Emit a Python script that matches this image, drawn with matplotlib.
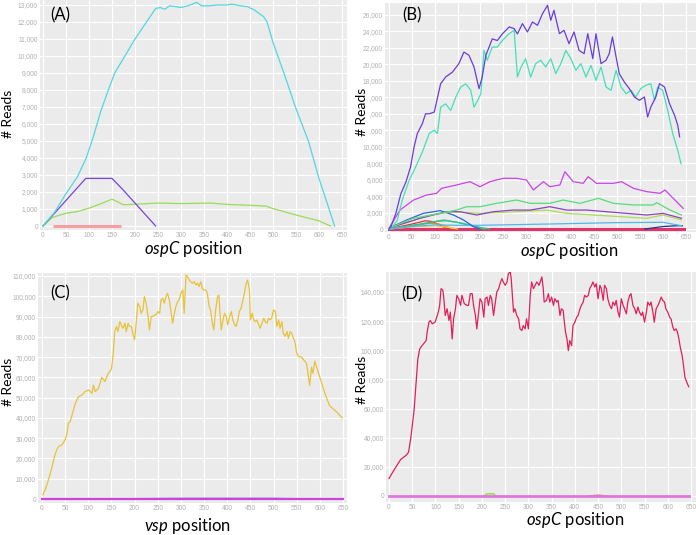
import matplotlib
matplotlib.use("Agg")
import matplotlib.pyplot as plt
from matplotlib.ticker import FuncFormatter, MultipleLocator

plt.rcParams['font.family'] = ['Lato', 'DejaVu Sans']
plt.rcParams['mathtext.fontset'] = 'custom'
plt.rcParams['mathtext.rm'] = 'Lato'
plt.rcParams['mathtext.it'] = 'Lato:italic'

# ---- panel A ----
a_cyan_x = [0, 25, 50, 75, 94, 110, 125, 142, 156, 178, 200, 225, 245, 255, 265, 275, 290,
            300, 315, 334, 345, 360, 380, 400, 410, 430, 445, 460, 480, 487, 500, 525, 550,
            577, 600, 634]
a_cyan_y = [0, 800, 1900, 2900, 4000, 5300, 6700, 8000, 9000, 10000, 11000, 12000, 12800,
            12850, 12750, 12950, 12900, 12850, 12950, 13150, 12950, 12950, 13000, 13000,
            13050, 12950, 12900, 12700, 12300, 12000, 10800, 8900, 6900, 5000, 2800, 0]
a_purple_x = [0, 25, 93, 150, 175, 245]
a_purple_y = [0, 750, 2800, 2800, 2100, 0]
a_green_x = [0, 20, 50, 75, 100, 125, 150, 175, 200, 250, 300, 365, 400, 450, 485, 500, 550, 600, 625]
a_green_y = [0, 500, 750, 850, 1050, 1300, 1580, 1250, 1280, 1350, 1320, 1350, 1270, 1220,
             1170, 1020, 650, 300, 0]
a_red_x = [22, 170]
a_red_y = [0, 0]

# ---- panel B ----
b_purple_x = [0, 4, 15, 26, 37, 47, 55, 62, 73, 80, 88, 99, 113, 124, 139, 153, 164, 175, 186,
              197, 204, 212, 226, 237, 248, 263, 274, 281, 292, 303, 314, 325, 336, 347, 354,
              361, 373, 383, 394, 405, 416, 427, 435, 446, 453, 464, 475, 482, 489, 497, 504,
              515, 526, 537, 548, 559, 566, 573, 584, 592, 603, 614, 625, 632, 636]
b_purple_y = [0, 240, 1900, 4300, 5700, 7500, 10000, 11600, 12800, 14000, 14000, 14200, 17650,
              18470, 19070, 20100, 21500, 21100, 19700, 17050, 18470, 21100, 23100, 22900,
              23700, 24550, 24340, 23700, 24950, 23940, 25150, 24750, 26160, 27180, 25350,
              26570, 23730, 24140, 22520, 23940, 21700, 21300, 23730, 20700, 23730, 20090,
              20500, 21300, 23330, 20900, 18870, 17860, 17050, 16040, 15630, 16040, 13600,
              14820, 16040, 17660, 17250, 15230, 13810, 12600, 11200]
b_teal_x = [0, 4, 18, 29, 44, 58, 73, 88, 99, 106, 113, 124, 135, 146, 157, 168, 179, 186, 194,
            201, 208, 215, 226, 237, 248, 263, 274, 281, 289, 299, 310, 321, 332, 343, 354,
            365, 376, 387, 398, 409, 420, 431, 442, 453, 464, 475, 486, 497, 508, 519, 530,
            540, 551, 562, 573, 581, 588, 599, 610, 621, 632, 639]
b_teal_y = [0, 40, 1050, 3500, 5900, 7500, 9350, 11600, 12000, 11600, 14800, 15200, 14400,
            16000, 17250, 17650, 16850, 14800, 15600, 16440, 21700, 20500, 22100, 22100,
            22900, 23730, 24140, 18470, 19680, 20700, 18470, 20090, 20500, 19680, 20700,
            18870, 20090, 21700, 20700, 19280, 20090, 18470, 19880, 18060, 19680, 17250,
            16850, 19280, 17250, 16440, 16850, 16040, 17050, 17460, 17660, 15630, 17250,
            16850, 14420, 11580, 9560, 7940]
b_magenta_x = [0, 2, 24, 53, 82, 104, 115, 148, 177, 199, 221, 250, 279, 301, 316, 338, 352,
               374, 385, 403, 425, 436, 454, 491, 509, 535, 564, 593, 604, 622, 644]
b_magenta_y = [0, 280, 2300, 3500, 4130, 4330, 4940, 5350, 5750, 5140, 5750, 6160, 6160, 5950,
               4740, 5750, 5140, 5350, 6960, 5750, 5550, 6360, 5550, 5550, 5750, 4940, 4540,
               4330, 4740, 3730, 2500]
b_green_x = [0, 2, 53, 112, 148, 170, 199, 236, 279, 309, 352, 381, 418, 458, 491, 535, 578,
             586, 615, 640]
b_green_y = [0, 150, 1300, 1900, 2300, 2710, 2710, 3120, 3520, 3120, 3120, 3520, 3120, 3730,
             3120, 2920, 2920, 3200, 2300, 1700]
b_violet_x = [0, 2, 68, 126, 155, 192, 228, 272, 309, 352, 389, 433, 476, 520, 564, 600, 640]
b_violet_y = [0, 150, 1300, 2100, 2100, 1700, 2100, 2300, 2300, 2710, 2300, 2300, 2100, 1900,
              1700, 1900, 1300]
b_lime_x = [0, 2, 90, 141, 199, 279, 345, 389, 447, 506, 564, 600, 640]
b_lime_y = [0, 150, 1700, 2100, 1900, 2100, 2300, 1900, 1700, 1500, 1300, 1700, 1100]
b_blue_x = [0, 2, 39, 75, 112, 141, 163, 185, 199]
b_blue_y = [0, 150, 1100, 1900, 2230, 1700, 1100, 280, 0]
b_sky_x = [0, 50, 100, 150, 199, 345, 491, 600, 640]
b_sky_y = [0, 300, 500, 450, 450, 600, 770, 810, 400]
b_red_x = [0, 50, 80, 95, 110, 125, 140]
b_red_y = [0, 600, 1000, 900, 500, 100, 0]
b_orange_x = [0, 50, 90, 110, 125, 140]
b_orange_y = [0, 400, 700, 600, 300, 0]
b_yellow_x = [0, 60, 100, 130, 150]
b_yellow_y = [0, 300, 400, 200, 0]
b_sea_x = [0, 60, 100, 125, 150, 180, 200, 210]
b_sea_y = [0, 500, 900, 1000, 800, 400, 100, 0]
b_aqua_x = [0, 80, 120, 160, 200, 220]
b_aqua_y = [0, 700, 1100, 700, 200, 0]
b_navy_x = [560, 600, 630, 642]
b_navy_y = [0, 300, 400, 400]
b_base_x = [0, 645]
b_base_y = [0, 0]

# ---- panel C ----
c_gold_x = [2, 7, 14, 18, 23, 27, 32, 36, 43, 50, 54, 57, 61, 68, 72, 79, 86, 93, 101, 108,
            111, 115, 122, 129, 136, 143, 150, 154, 157, 161, 164, 168, 171, 175, 179, 182,
            186, 189, 193, 196, 200, 204, 207, 211, 214, 218, 221, 225, 229, 232, 236, 239,
            243, 246, 250, 254, 257, 261, 264, 268, 271, 275, 279, 282, 286, 289, 293, 296,
            300, 304, 307, 311, 314, 318, 321, 325, 329, 332, 336, 339, 343, 346, 350, 354,
            357, 361, 364, 368, 371, 375, 379, 382, 384, 387, 391, 394, 398, 401, 405, 409,
            412, 416, 419, 423, 426, 430, 434, 437, 441, 444, 448, 450, 454, 457, 461, 464,
            468, 471, 475, 479, 482, 486, 489, 493, 496, 500, 504, 507, 511, 514, 518, 521,
            525, 529, 532, 536, 539, 543, 546, 550, 554, 560, 571, 578, 582, 585, 589, 600,
            611, 621, 636, 648]
c_gold_y = [2100, 4600, 9500, 12800, 16900, 21000, 24300, 25900, 26700, 29200, 32500, 37400,
            38200, 43900, 47200, 50500, 51300, 53000, 53800, 52100, 56200, 53000, 54600, 60000,
            58000, 62000, 64000, 72000, 82600, 85100, 82600, 87500, 85900, 84200, 86700, 82600,
            86700, 85100, 85100, 81800, 78500, 88350, 96550, 94900, 91600, 93300, 99800, 96550,
            90000, 83400, 90000, 90000, 90800, 90800, 92450, 91600, 98200, 99000, 96550, 99800,
            101500, 98200, 91600, 86700, 91600, 94900, 97400, 98200, 101500, 103100, 91600,
            110500, 109700, 108000, 107200, 106400, 107200, 105600, 106400, 104800, 107200,
            103900, 103100, 103100, 101500, 94900, 93300, 86700, 83400, 93300, 99800, 100600,
            93300, 83400, 88350, 91600, 90000, 85900, 90000, 92450, 88350, 85900, 85100, 88350,
            92450, 94100, 98200, 101500, 106400, 108000, 103100, 88350, 91600, 88350, 87500,
            88350, 85900, 84200, 86700, 89200, 87500, 86700, 89200, 88350, 89200, 93300, 92450,
            85100, 88350, 84200, 87500, 81800, 80150, 82600, 79300, 82600, 81800, 79300, 77700,
            72000, 70300, 70000, 67000, 56000, 65000, 62000, 68000, 60000, 52000, 46000, 43000,
            40000]
c_pink_x = [0, 650]
c_pink_y = [0, 0]
c_blue_x = [100, 300, 500, 600]
c_blue_y = [0, 300, 300, 0]

# ---- panel D ----
d_red_x = [0, 11, 25, 37, 42, 47, 54, 59, 62, 66, 71, 77, 80, 82, 86, 89, 93, 99, 104, 107,
           109, 112, 116, 118, 121, 125, 129, 132, 136, 139, 143, 146, 150, 154, 157, 162,
           168, 171, 175, 179, 182, 186, 189, 193, 196, 200, 204, 207, 211, 214, 218, 221,
           225, 229, 232, 236, 239, 243, 246, 250, 254, 257, 261, 263, 266, 268, 271, 275,
           279, 282, 286, 289, 293, 296, 300, 304, 307, 311, 318, 323, 329, 332, 334, 339,
           343, 346, 350, 354, 357, 361, 364, 368, 371, 375, 377, 380, 383, 386, 389, 393,
           396, 400, 404, 407, 411, 414, 418, 421, 425, 429, 432, 436, 439, 443, 446, 450,
           454, 457, 461, 464, 468, 471, 475, 479, 482, 486, 489, 493, 496, 500, 504, 507,
           511, 514, 518, 521, 525, 529, 532, 536, 539, 543, 546, 550, 554, 557, 561, 564,
           568, 571, 575, 579, 582, 586, 589, 593, 596, 600, 604, 607, 611, 614, 618, 621,
           624, 627, 631, 634, 637, 641, 645]
d_red_y = [12000, 18000, 25000, 28000, 30000, 40000, 59000, 81350, 94000, 100900, 103200,
           105500, 106650, 112400, 119300, 120450, 118150, 119300, 123900, 127350, 130800,
           142300, 141150, 135400, 123900, 128500, 120450, 126200, 107800, 121600, 128500,
           137700, 135400, 130800, 137700, 132000, 130800, 130800, 138850, 138850, 130800,
           123900, 114700, 126200, 135400, 133100, 122750, 135400, 136550, 130800, 137700,
           135400, 123900, 133100, 140000, 142300, 145750, 149200, 146900, 144600, 146900,
           152650, 153800, 149200, 135400, 126200, 128500, 123900, 121600, 114700, 113550,
           117000, 114700, 121600, 114700, 137700, 146900, 142300, 146900, 144600, 150350,
           142300, 133100, 134250, 138850, 133100, 136550, 130800, 135400, 133100, 134250,
           123900, 128500, 127350, 120450, 112400, 107800, 99750, 106650, 103200, 117000,
           119300, 122750, 123900, 128500, 130800, 133100, 137700, 136550, 137700, 142300,
           144600, 146900, 143450, 145750, 135400, 144600, 142300, 134250, 144600, 142300,
           135400, 130800, 128500, 133100, 130800, 134250, 126200, 122750, 135400, 130800,
           128500, 125050, 133100, 137700, 138850, 130800, 128500, 125050, 129650, 126200,
           123900, 126200, 119300, 126200, 133100, 130800, 133100, 126200, 119300, 128500,
           130800, 133100, 136550, 134250, 133100, 128500, 126200, 122750, 121600, 115850,
           113550, 114700, 112400, 107800, 102050, 96300, 89400, 81350, 78000, 75000]
d_pink_x = [0, 645]
d_pink_y = [0, 0]
d_green_x = [205, 210, 225, 230]
d_green_y = [0, 1500, 1500, 0]
d_rose_x = [430, 450, 470]
d_rose_y = [0, 600, 0]

W, H = 696, 535
fig = plt.figure(figsize=(6.96, 5.35), dpi=100, facecolor='white')


def make_ax(left, top, right, bottom, xlim, ylim, ystep):
    ax = fig.add_axes([left / W, 1 - bottom / H, (right - left) / W, (bottom - top) / H])
    ax.set_facecolor('#EBEBEB')
    for s in ax.spines.values():
        s.set_visible(False)
    ax.set_xlim(*xlim)
    ax.set_ylim(*ylim)
    ax.xaxis.set_major_locator(MultipleLocator(50))
    ax.yaxis.set_major_locator(MultipleLocator(ystep))
    ax.yaxis.set_major_formatter(FuncFormatter(lambda v, p: '{:,.0f}'.format(v)))
    ax.grid(True, color='white', lw=0.8)
    ax.set_axisbelow(True)
    ax.tick_params(length=0, pad=1.5, labelsize=4.8, labelcolor='#B0B0B0')
    for lab in ax.get_xticklabels() + ax.get_yticklabels():
        lab.set_family('Liberation Sans')
    return ax


axA = make_ax(40, 0, 347, 230, (-6.5, 660.9), (-235, 13294), 1000)
axA.plot(a_red_x, a_red_y, color='#F4A0A0', lw=2.2, solid_capstyle='butt')
axA.plot(a_green_x, a_green_y, color='#99DD55', lw=0.9)
axA.plot(a_purple_x, a_purple_y, color='#7744DD', lw=0.9)
axA.plot(a_cyan_x, a_cyan_y, color='#4FD8E0', lw=0.9)

axB = make_ax(385, 3, 696, 232, (-8.75, 671.9), (-364, 27458), 2000)
axB.plot(b_base_x, b_base_y, color='#E0336A', lw=2.2)
axB.plot(b_navy_x, b_navy_y, color='#223388', lw=0.9)
for xs, ys, c in [(b_red_x, b_red_y, '#E83030'), (b_orange_x, b_orange_y, '#F08030'),
                  (b_yellow_x, b_yellow_y, '#E8D040'), (b_sea_x, b_sea_y, '#40D060'),
                  (b_aqua_x, b_aqua_y, '#30C0A0')]:
    axB.plot(xs, ys, color=c, lw=0.9)
axB.plot(b_sky_x, b_sky_y, color='#50B8E8', lw=0.9)
axB.plot(b_blue_x, b_blue_y, color='#3060E0', lw=0.9)
axB.plot(b_lime_x, b_lime_y, color='#AADD55', lw=0.9)
axB.plot(b_violet_x, b_violet_y, color='#9040C0', lw=0.9)
axB.plot(b_green_x, b_green_y, color='#55DD77', lw=0.9)
axB.plot(b_magenta_x, b_magenta_y, color='#C844E8', lw=0.9)
axB.plot(b_teal_x, b_teal_y, color='#44E0B8', lw=0.9)
axB.plot(b_purple_x, b_purple_y, color='#6A3DDB', lw=0.9)

axC = make_ax(38, 273, 347, 503, (-8.6, 658.6), (-1973, 111480), 10000)
axC.plot(c_blue_x, c_blue_y, color='#5566DD', lw=1.0)
axC.plot(c_pink_x, c_pink_y, color='#CC44DD', lw=1.6)
axC.plot(c_gold_x, c_gold_y, color='#E8C23A', lw=0.9)

axD = make_ax(386, 272, 696, 502, (-6.5, 660.8), (-4118, 153730), 20000)
axD.plot(d_green_x, d_green_y, color='#99DD55', lw=1.2)
axD.plot(d_rose_x, d_rose_y, color='#E07070', lw=1.0)
axD.plot(d_pink_x, d_pink_y, color='#DD77DD', lw=2.0)
axD.plot(d_red_x, d_red_y, color='#E0205A', lw=0.9)

# labels
for (x, y, t) in [(60, 15, '(A)'), (412, 15, '(B)'), (60, 293, '(C)'), (412, 294, '(D)')]:
    fig.text(x / W, 1 - y / H, t, fontsize=12, ha='center', va='center')

for (x, y) in [(8, 114), (362, 112), (8, 382), (362, 380)]:
    fig.text(x / W, 1 - y / H, '# Reads', fontsize=10, rotation=90, ha='center', va='center',
             bbox=dict(facecolor='white', edgecolor='none', pad=0.6))

for (x, y, t) in [(193, 254, r'$ospC$ position'), (569, 256, r'$ospC$ position'),
                  (188, 531, r'$vsp$ position'), (575, 525, r'$ospC$ position')]:
    fig.text(x / W, 1 - y / H, t, fontsize=12, ha='center', va='baseline')

fig.savefig('out.png', dpi=100, facecolor='white')
